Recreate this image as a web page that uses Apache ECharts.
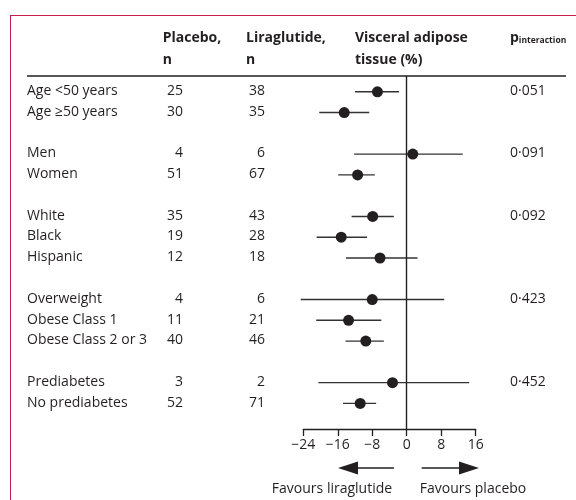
<!DOCTYPE html>
<html><head><meta charset="utf-8">
<script src="https://cdn.jsdelivr.net/npm/echarts@6/dist/echarts.min.js"></script>
<style>html,body{margin:0;padding:0;background:#fff}#c{width:576px;height:500px}</style>
</head><body><div id="c"></div>
<script>
const rows = ['Age <50 years','Age ≥50 years','Men','Women','White','Black','Hispanic','Overweight','Obese Class 1','Obese Class 2 or 3','Prediabetes','No prediabetes'];
const groupOf = [0,0,1,1,2,2,2,3,3,3,4,4];
const placeboN = [25,30,4,51,35,19,12,4,11,40,3,52];
const liraN = [38,35,6,67,43,28,18,6,21,46,2,71];
const estimate = [-6.8,-14.5,1.4,-11.4,-7.9,-15.2,-6.2,-8.0,-13.5,-9.5,-3.3,-10.8];
const lower = [-12.0,-20.3,-12.2,-15.9,-12.8,-20.9,-14.1,-24.6,-21.0,-14.2,-20.5,-14.8];
const upper = [-1.8,-8.7,13.0,-7.4,-3.0,-9.2,2.5,8.7,-5.9,-5.3,14.5,-7.1];
const pValues = ['0·051','','0·091','','0·092','','','0·423','','','0·452',''];
const xTicks = [-24,-16,-8,0,8,16];

const FONT = '"Open Sans", sans-serif';
const FS = 14;
const TXT = '#231f20';
const slot = rows.map((r,i)=>i+groupOf[i]);
const yMin = -0.722, yMax = 16.27;
const colX = {label:27, placebo:183, lira:265, p:510};

const chart = echarts.init(document.getElementById('c'), null, {renderer:'canvas'});

function textSeries(xPos, getText, align){
  return {
    type:'custom', xAxisIndex:1, yAxisIndex:1, clip:false, silent:true,
    data: rows.map((r,i)=>[xPos, slot[i]]),
    renderItem(params, api){
      const p = api.coord([api.value(0), api.value(1)]);
      return {type:'text', x:p[0], y:p[1], style:{text:String(getText(params.dataIndex)), fontSize:FS, fontFamily:FONT, fill:TXT, align:align, verticalAlign:'middle'}};
    }
  };
}

function hText(x,y,text,opts){
  return {type:'text', x:x, y:y, style:Object.assign({text:text, fontSize:FS, fontFamily:FONT, fill:TXT, verticalAlign:'middle'}, opts||{})};
}

const option = {
  animation:false,
  grid:[
    {left:303.3, width:172.4, top:76, bottom:71},
    {left:0, right:0, top:76, bottom:71}
  ],
  xAxis:[
    {type:'value', gridIndex:0, min:-24, max:16, interval:8,
     axisLine:{show:true, onZero:false, lineStyle:{color:'#231f20', width:1.3}},
     axisTick:{show:true, length:7, lineStyle:{color:'#231f20', width:1.3}},
     splitLine:{show:false},
     axisLabel:{fontSize:FS, fontFamily:FONT, color:TXT, margin:9,
       formatter:v=>xTicks.includes(v)?String(v).replace('-','\u2212'):''}},
    {type:'value', gridIndex:1, min:0, max:576, show:false}
  ],
  yAxis:[
    {type:'value', gridIndex:0, inverse:true, min:yMin, max:yMax, show:false},
    {type:'value', gridIndex:1, inverse:true, min:yMin, max:yMax, show:false}
  ],
  series:[
    {type:'custom', xAxisIndex:0, yAxisIndex:0, clip:false, silent:true,
     data: rows.map((r,i)=>[estimate[i], lower[i], upper[i], slot[i]]),
     renderItem(params, api){
       const y = api.value(3);
       const a = api.coord([api.value(1), y]);
       const b = api.coord([api.value(2), y]);
       const c = api.coord([api.value(0), y]);
       return {type:'group', children:[
         {type:'line', shape:{x1:a[0], y1:a[1]+0.8, x2:b[0], y2:b[1]+0.8}, style:{stroke:'#333', lineWidth:1.4}},
         {type:'circle', shape:{cx:c[0], cy:c[1]+0.8, r:5.5}, style:{fill:'#231f20'}}
       ]};
     },
     markLine:{silent:true, symbol:'none', label:{show:false},
       lineStyle:{color:'#231f20', width:1.4, type:'solid'},
       data:[{xAxis:0}]}
    },
    textSeries(colX.label, i=>rows[i], 'left'),
    textSeries(colX.placebo, i=>placeboN[i], 'right'),
    textSeries(colX.lira, i=>liraN[i], 'right'),
    textSeries(colX.p, i=>pValues[i], 'left')
  ],
  graphic:[
    {type:'line', shape:{x1:10.5, y1:15, x2:10.5, y2:500}, style:{stroke:'#c4204e', lineWidth:1}},
    {type:'line', shape:{x1:10, y1:15.5, x2:576, y2:15.5}, style:{stroke:'#c4204e', lineWidth:1}},
    {type:'line', shape:{x1:27, y1:76, x2:566, y2:76}, style:{stroke:'#231f20', lineWidth:1.3}},
    hText(162.7,38,'Placebo,',{fontWeight:'bold'}),
    hText(162.7,60,'n',{fontWeight:'bold'}),
    hText(246,38,'Liraglutide,',{fontWeight:'bold'}),
    hText(246,60,'n',{fontWeight:'bold'}),
    hText(355,38,'Visceral adipose',{fontWeight:'bold'}),
    hText(355,60,'tissue (%)',{fontWeight:'bold'}),
    {type:'text', x:510, y:38, style:{text:'{p|p}{s|interaction}', verticalAlign:'middle', rich:{p:{fontSize:FS, fontFamily:FONT, fontWeight:'bold', fill:TXT}, s:{fontSize:8.5, fontFamily:FONT, fontWeight:'bold', fill:TXT, padding:[5,0,0,0]}}}},
    {type:'line', shape:{x1:356, y1:468, x2:394, y2:468}, style:{stroke:'#231f20', lineWidth:1.5}},
    {type:'polygon', shape:{points:[[338,468],[358,461.5],[358,474.5]]}, style:{fill:'#231f20'}},
    {type:'line', shape:{x1:421.7, y1:468, x2:461, y2:468}, style:{stroke:'#231f20', lineWidth:1.5}},
    {type:'polygon', shape:{points:[[479,468],[459,461.5],[459,474.5]]}, style:{fill:'#231f20'}},
    hText(332,489,'Favours liraglutide',{align:'center'}),
    hText(473,489,'Favours placebo',{align:'center'})
  ]
};
chart.setOption(option);
</script></body></html>
